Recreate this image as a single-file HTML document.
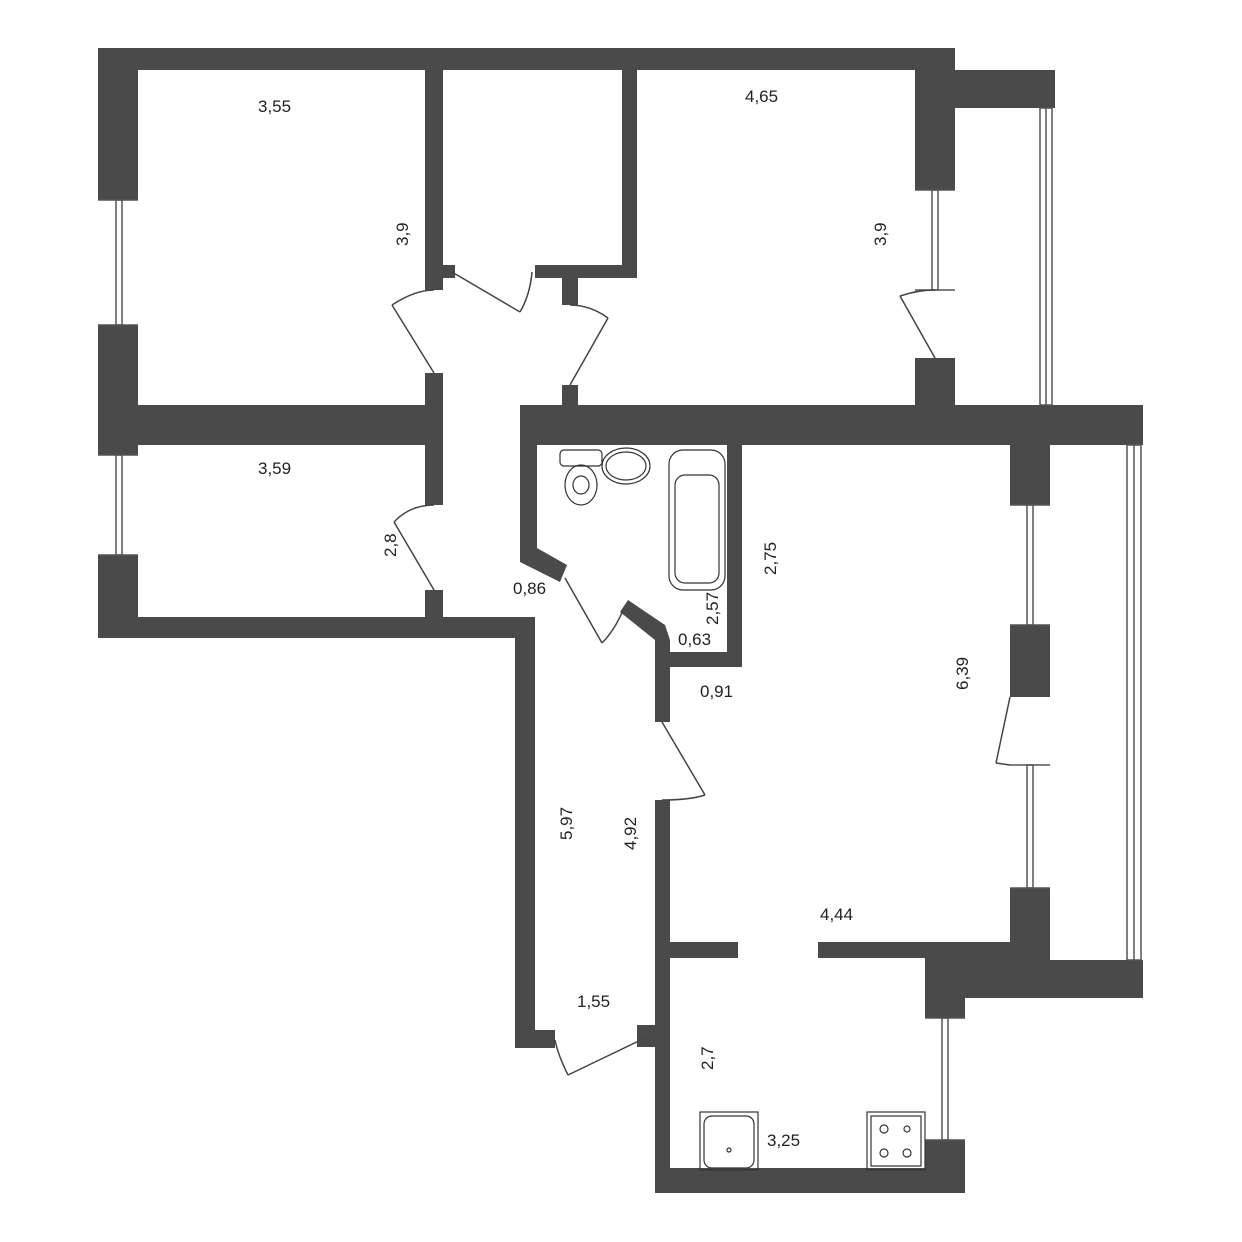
<!DOCTYPE html>
<html><head><meta charset="utf-8"><style>body{margin:0;background:#fff}svg{display:block}text{font-family:"Liberation Sans",sans-serif;font-size:17px;fill:#222}</style></head><body>
<svg width="1242" height="1242" viewBox="0 0 1242 1242" xmlns="http://www.w3.org/2000/svg">
<g fill="#4a4a4a">
<rect x="98" y="48" width="857" height="22"/>
<rect x="955" y="70" width="100" height="38"/>
<rect x="98" y="48" width="40" height="152"/>
<rect x="98" y="325" width="40" height="130"/>
<rect x="98" y="555" width="40" height="83"/>
<rect x="98" y="405" width="345" height="40"/>
<rect x="98" y="617" width="437" height="21"/>
<rect x="515" y="617" width="20" height="431"/>
<rect x="515" y="1030" width="40" height="18"/>
<rect x="637" y="1025" width="20" height="22"/>
<rect x="425" y="70" width="18" height="220"/>
<rect x="425" y="373" width="18" height="72"/>
<rect x="425" y="445" width="18" height="60"/>
<rect x="425" y="590" width="18" height="30"/>
<rect x="443" y="265" width="12" height="13"/>
<rect x="622" y="70" width="15" height="208"/>
<rect x="535" y="265" width="102" height="13"/>
<rect x="562" y="278" width="16" height="27"/>
<rect x="562" y="385" width="16" height="22"/>
<rect x="915" y="70" width="40" height="120"/>
<rect x="915" y="358" width="40" height="47"/>
<rect x="520" y="405" width="623" height="40"/>
<rect x="520" y="405" width="17" height="150"/>
<polygon points="520,548 537,548 567,565 560,582 520,562"/>
<polygon points="620,612 628,600 665,625 670,640 655,640"/>
<rect x="727" y="445" width="15" height="222"/>
<rect x="655" y="652" width="87" height="15"/>
<rect x="655" y="640" width="15" height="82"/>
<rect x="655" y="800" width="15" height="393"/>
<rect x="1010" y="445" width="40" height="60"/>
<rect x="1010" y="625" width="40" height="72"/>
<rect x="1010" y="888" width="40" height="72"/>
<rect x="670" y="942" width="68" height="16"/>
<rect x="818" y="942" width="232" height="16"/>
<rect x="1050" y="960" width="93" height="38"/>
<rect x="925" y="958" width="125" height="40"/>
<rect x="925" y="998" width="40" height="20"/>
<rect x="925" y="1140" width="40" height="53"/>
<rect x="655" y="1168" width="310" height="25"/>
<rect x="1125" y="405" width="18" height="40"/>
</g>
<g fill="none" stroke="#555" stroke-width="1.5">
<rect x="116" y="200" width="6" height="125"/><line x1="98" y1="200" x2="138" y2="200"/><line x1="98" y1="325" x2="138" y2="325"/>
<rect x="116" y="455" width="6" height="100"/><line x1="98" y1="455" x2="138" y2="455"/><line x1="98" y1="555" x2="138" y2="555"/>
<rect x="932" y="190" width="6" height="100"/><line x1="915" y1="190" x2="955" y2="190"/><line x1="915" y1="290" x2="955" y2="290"/>
<rect x="1040" y="108" width="12" height="297"/><line x1="1046" y1="108" x2="1046" y2="405"/>
<rect x="1127" y="445" width="14" height="515"/><line x1="1134" y1="445" x2="1134" y2="960"/>
<rect x="1027" y="505" width="6" height="120"/><line x1="1010" y1="505" x2="1050" y2="505"/><line x1="1010" y1="625" x2="1050" y2="625"/>
<rect x="1027" y="765" width="6" height="123"/><line x1="1010" y1="765" x2="1050" y2="765"/><line x1="1010" y1="888" x2="1050" y2="888"/>
<rect x="942" y="1018" width="6" height="122"/><line x1="925" y1="1018" x2="965" y2="1018"/><line x1="925" y1="1140" x2="965" y2="1140"/>
</g>
<g fill="none" stroke="#444" stroke-width="1.5">
<line x1="434" y1="373" x2="392" y2="305"/><path d="M392 305 Q415 290 434 290"/>
<line x1="452" y1="272" x2="520" y2="312"/><path d="M520 312 Q530 295 532 272"/>
<line x1="570" y1="385" x2="608" y2="318"/><path d="M608 318 Q590 305 570 305"/>
<line x1="935" y1="358" x2="900" y2="296"/><path d="M900 296 Q918 290 935 290"/>
<line x1="434" y1="590" x2="394" y2="522"/><path d="M394 522 Q410 505 434 505"/>
<line x1="565" y1="578" x2="602" y2="643"/><path d="M602 643 Q615 630 624 608"/>
<line x1="662" y1="722" x2="705" y2="795"/><path d="M705 795 Q690 800 662 800"/>
<line x1="1010" y1="697" x2="996" y2="763"/><path d="M996 763 Q1003 764 1010 765"/>
<line x1="645" y1="1038" x2="568" y2="1075"/><path d="M568 1075 Q558 1055 555 1040"/>
</g>
<g fill="none" stroke="#333" stroke-width="1.2">
<rect x="560" y="450" width="42" height="16" rx="4"/><ellipse cx="581" cy="485" rx="16" ry="20"/><ellipse cx="581" cy="485" rx="8" ry="9"/>
<ellipse cx="626" cy="466" rx="24" ry="18"/><ellipse cx="626" cy="466" rx="20" ry="14"/>
<rect x="669" y="450" width="56" height="140" rx="14"/><rect x="675" y="475" width="44" height="108" rx="10"/>
<rect x="700" y="1112" width="58" height="58"/><rect x="704" y="1116" width="50" height="52" rx="8"/><circle cx="729" cy="1150" r="2"/>
<rect x="867" y="1112" width="58" height="58"/><rect x="871" y="1116" width="50" height="50"/>
<circle cx="884" cy="1129" r="4"/><circle cx="907" cy="1129" r="3"/><circle cx="884" cy="1153" r="4"/><circle cx="907" cy="1153" r="4"/>
</g>
<text x="258" y="112">3,55</text>
<text x="745" y="102">4,65</text>
<text x="258" y="474">3,59</text>
<text x="513" y="594">0,86</text>
<text x="678" y="645">0,63</text>
<text x="700" y="697">0,91</text>
<text x="577" y="1007">1,55</text>
<text x="820" y="920">4,44</text>
<text x="767" y="1146">3,25</text>
<text transform="translate(408,246) rotate(-90)">3,9</text>
<text transform="translate(886,246) rotate(-90)">3,9</text>
<text transform="translate(396,557) rotate(-90)">2,8</text>
<text transform="translate(776,575) rotate(-90)">2,75</text>
<text transform="translate(718,625) rotate(-90)">2,57</text>
<text transform="translate(968,690) rotate(-90)">6,39</text>
<text transform="translate(572,840) rotate(-90)">5,97</text>
<text transform="translate(636,850) rotate(-90)">4,92</text>
<text transform="translate(713,1070) rotate(-90)">2,7</text>
</svg>
</body></html>
